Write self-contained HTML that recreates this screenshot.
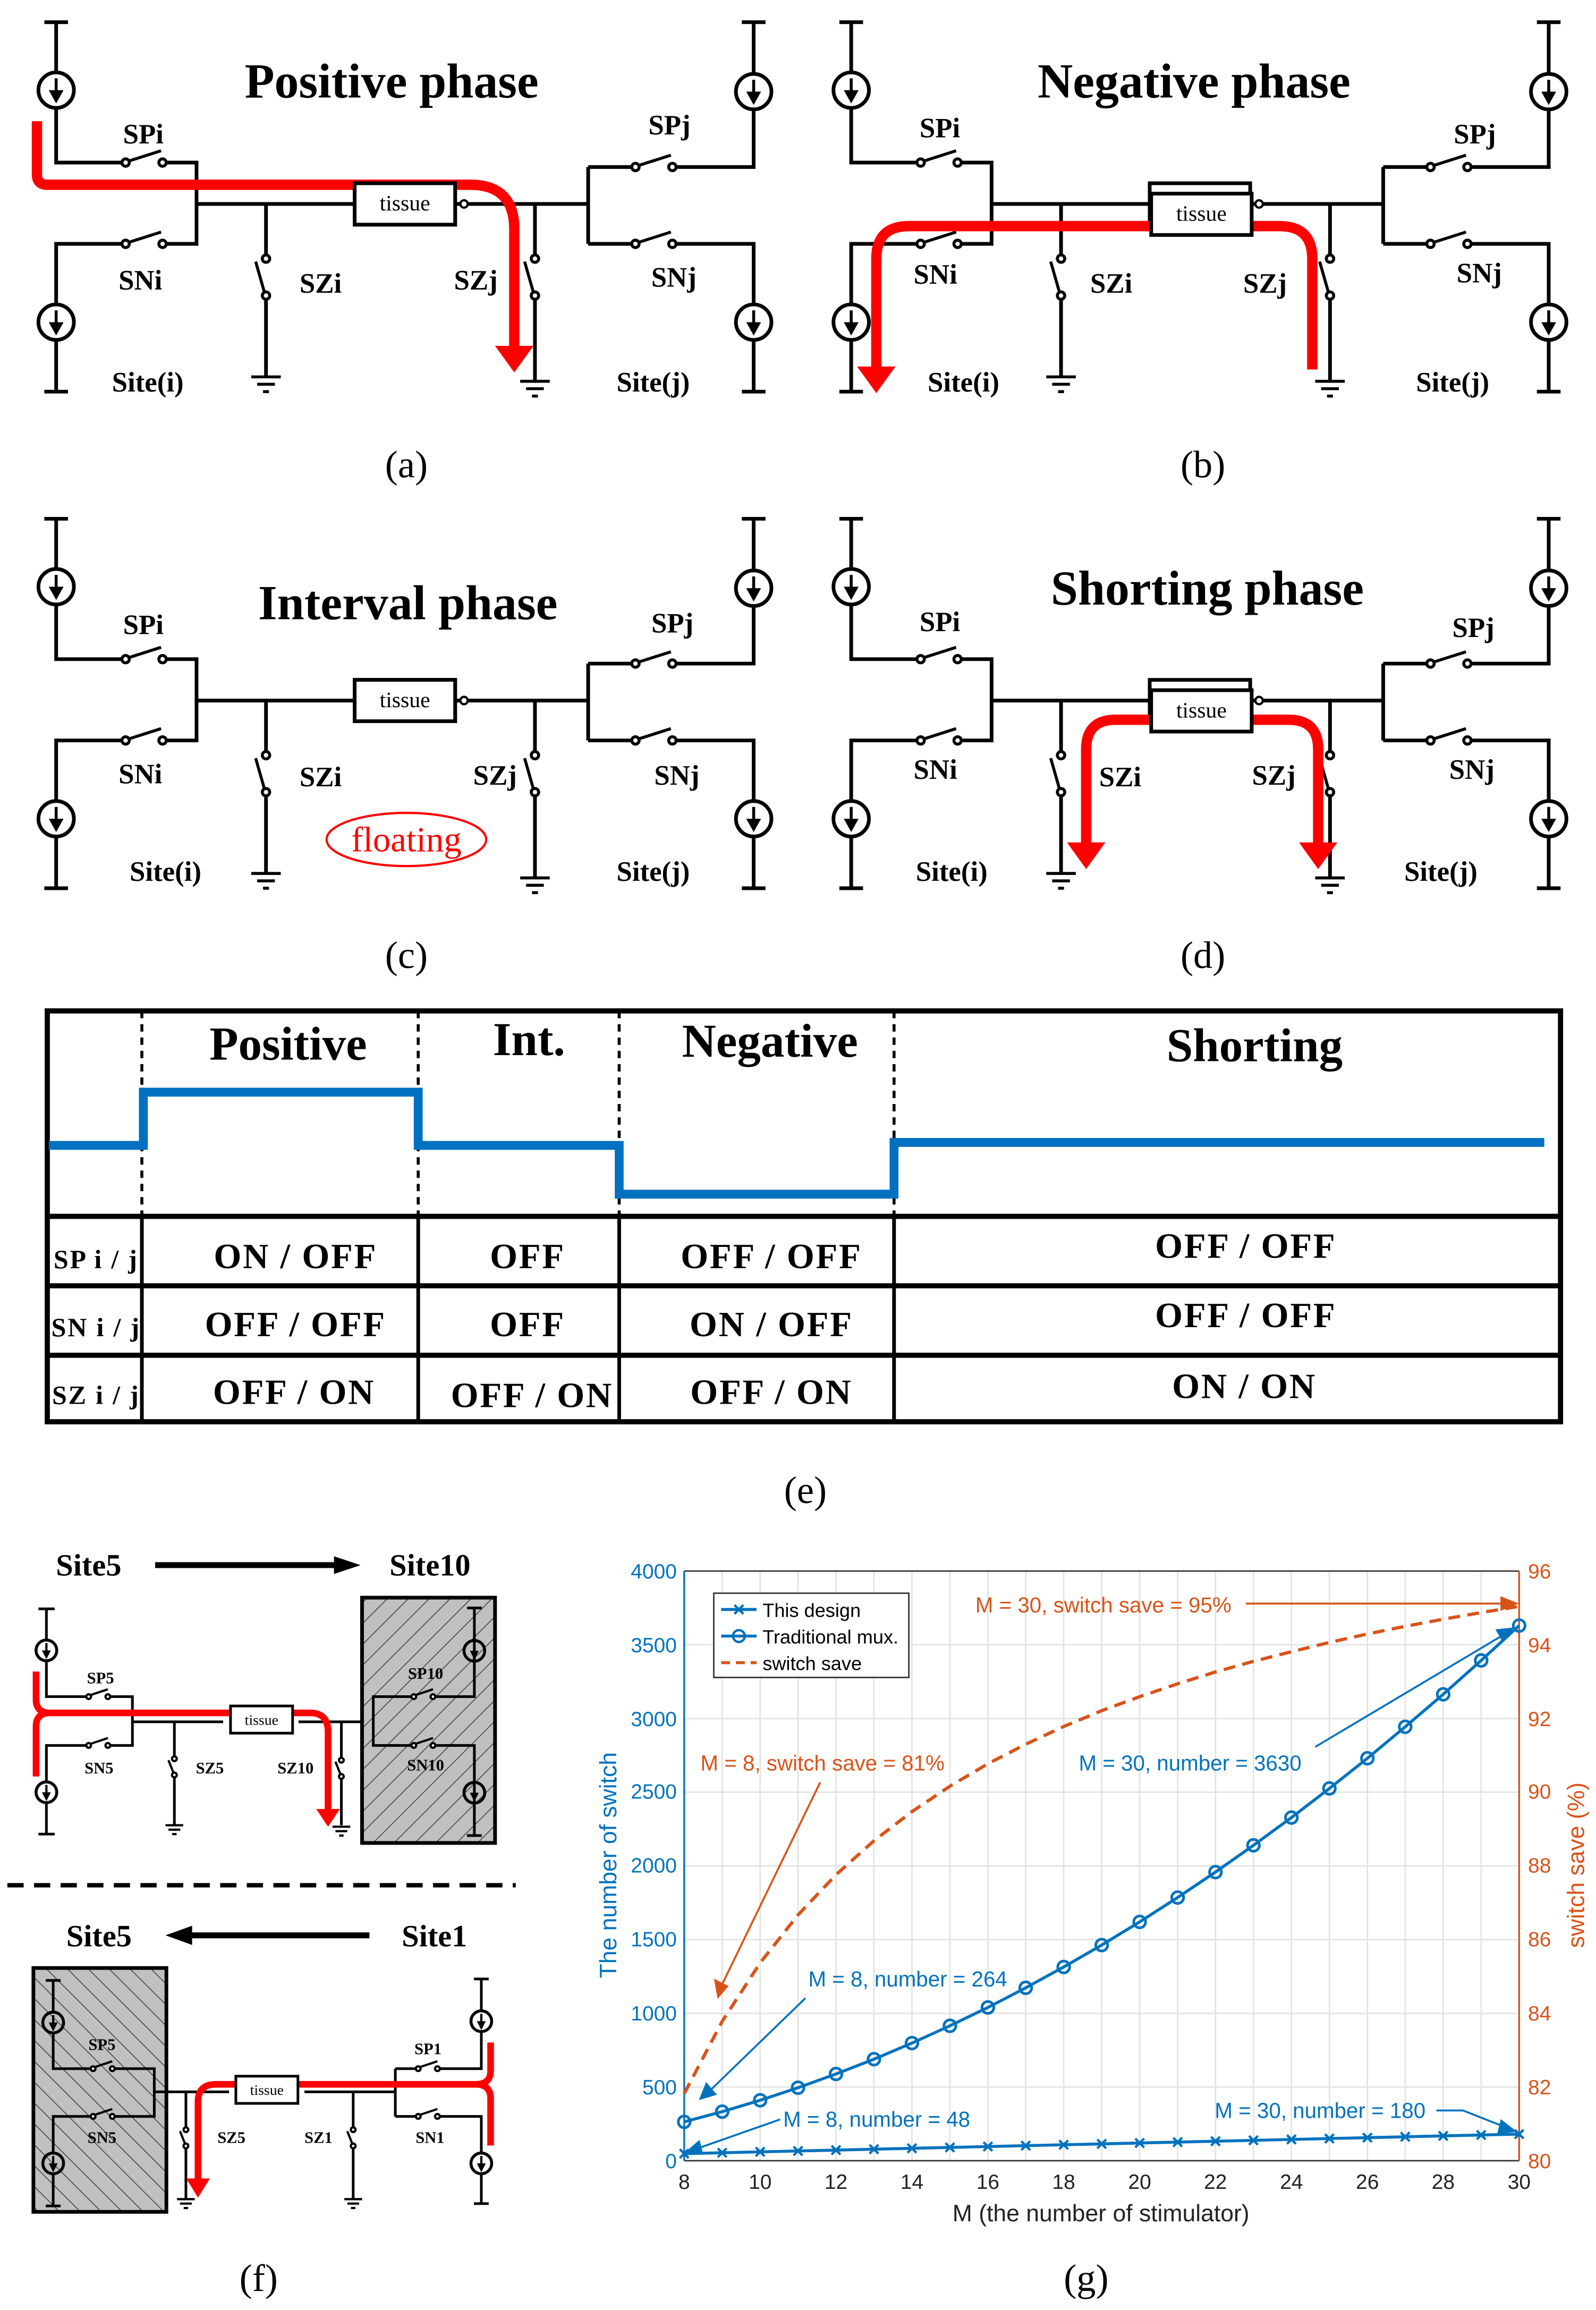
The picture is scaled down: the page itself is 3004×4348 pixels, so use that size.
<!DOCTYPE html>
<html><head><meta charset="utf-8"><style>
html,body{margin:0;padding:0;background:#fff}
svg{display:block}
.s{font-family:"Liberation Serif",serif;font-weight:bold;fill:#000}
.a{font-family:"Liberation Sans",sans-serif}
</style></head><body>
<svg width="3004" height="4348" viewBox="0 0 1080 1563" preserveAspectRatio="none" xmlns="http://www.w3.org/2000/svg">
<defs>
<g id="src"><circle r="12" fill="#fff" stroke="#000" stroke-width="2.5"/><line x1="0" y1="-8" x2="0" y2="3" stroke="#000" stroke-width="2"/><polygon points="-5,0 5,0 0,9" fill="#000"/></g>
<g id="gnd" stroke="#000" stroke-width="2"><line x1="-10" y1="0" x2="10" y2="0"/><line x1="-6" y1="5" x2="6" y2="5"/><line x1="-2" y1="10" x2="2" y2="10"/></g>
<g id="swh" stroke="#000" stroke-width="2" fill="#fff"><line x1="2" y1="-1" x2="24" y2="-8"/><circle cx="0" cy="0" r="2.5"/><circle cx="25" cy="0" r="2.5"/></g>
<g id="swv" stroke="#000" stroke-width="2" fill="#fff"><line x1="-1" y1="23" x2="-7" y2="2"/><circle cx="0" cy="0" r="2.5"/><circle cx="0" cy="25" r="2.5"/></g>
<g id="cir">
<path fill="none" stroke="#000" stroke-width="2.5" d="M30 15H46 M38 15V49 M38 73V110H85 M110 110H133V165H110 M85 165H38V206 M38 230V265 M30 265H46 M133 138H240 M308 138H398 M180 138V175 M180 200V255 M362 138V175 M362 200V258 M398 113V165 M398 113H430 M455 113H510V74 M510 50V15 M502 15H518 M398 165H430 M455 165H510V206 M510 230V265 M502 265H518"/>
<use href="#src" x="38" y="61"/><use href="#src" x="38" y="218"/><use href="#src" x="510" y="62"/><use href="#src" x="510" y="218"/>
<use href="#swh" x="85" y="110"/><use href="#swh" x="85" y="165"/><use href="#swh" x="430" y="113"/><use href="#swh" x="430" y="165"/>
<use href="#swv" x="180" y="175"/><use href="#swv" x="362" y="175"/>
<use href="#gnd" x="180" y="255"/><use href="#gnd" x="362" y="258"/>
<rect x="240" y="124" width="68" height="28" fill="#fff" stroke="#000" stroke-width="2.5"/>
<circle cx="314" cy="138" r="2.5" fill="#fff" stroke="#000" stroke-width="1.5"/>
</g>
<pattern id="h1" width="10" height="10" patternUnits="userSpaceOnUse" patternTransform="rotate(45)"><rect width="10" height="10" fill="#c0c0c0"/><line x1="0" y1="0" x2="0" y2="10" stroke="#333" stroke-width="1"/></pattern>
<pattern id="h2" width="10" height="10" patternUnits="userSpaceOnUse" patternTransform="rotate(-45)"><rect width="10" height="10" fill="#c0c0c0"/><line x1="0" y1="0" x2="0" y2="10" stroke="#333" stroke-width="1"/></pattern>
<g id="s2"><circle r="7" fill="none" stroke="#000" stroke-width="2"/><line x1="0" y1="-5" x2="0" y2="2" stroke="#000" stroke-width="1.5"/><polygon points="-3,0 3,0 0,6" fill="#000"/></g>
<g id="g2" stroke="#000" stroke-width="1.5"><line x1="-6" y1="0" x2="6" y2="0"/><line x1="-4" y1="3" x2="4" y2="3"/><line x1="-1.5" y1="6" x2="1.5" y2="6"/></g>
<g id="sw2h" stroke="#000" stroke-width="1.5" fill="#fff"><line x1="1" y1="-1" x2="13" y2="-5"/><circle r="1.6"/><circle cx="13" r="1.6"/></g>
<g id="sw2v" stroke="#000" stroke-width="1.5" fill="#fff"><line x1="0" y1="11" x2="-4" y2="1"/><circle r="1.6"/><circle cy="11" r="1.6"/></g>
</defs>

<!-- (a) -->
<use href="#cir"/>
<path d="M25 82V118Q25 125 32 125H318Q348 125 348 155V236" fill="none" stroke="#f00" stroke-width="7"/>
<polygon points="335,234 361,234 348,252" fill="#f00"/>
<rect x="240" y="124" width="68" height="28" fill="#fff" stroke="#000" stroke-width="2.5"/>
<text x="274" y="139" font-size="15" text-anchor="middle" dominant-baseline="middle" font-family="Liberation Serif,serif">tissue</text>
<text class="s" x="265" y="66" font-size="33" text-anchor="middle">Positive phase</text>
<g class="s" font-size="19" text-anchor="middle">
<text x="97" y="97">SPi</text><text x="95" y="196">SNi</text><text x="217" y="198">SZi</text><text x="322" y="196">SZj</text><text x="456" y="194">SNj</text><text x="453" y="91">SPj</text><text x="100" y="265">Site(i)</text><text x="442" y="265">Site(j)</text>
</g>
<text x="275" y="323" font-size="26" text-anchor="middle" font-family="Liberation Serif,serif">(a)</text>

<!-- (b) -->
<g transform="translate(538,0)"><use href="#cir"/></g>
<path d="M888 250V175Q888 153 866 153H615Q593 153 593 175V250" fill="none" stroke="#f00" stroke-width="7"/>
<polygon points="580,248 606,248 593,266" fill="#f00"/>
<rect x="779" y="131" width="68" height="28" fill="#fff" stroke="#000" stroke-width="2.5"/>
<text x="813" y="146" font-size="15" text-anchor="middle" dominant-baseline="middle" font-family="Liberation Serif,serif">tissue</text>
<text class="s" x="808" y="66" font-size="33" text-anchor="middle">Negative phase</text>
<g class="s" font-size="19" text-anchor="middle">
<text x="636" y="93">SPi</text><text x="633" y="192">SNi</text><text x="752" y="198">SZi</text><text x="856" y="198">SZj</text><text x="1001" y="191">SNj</text><text x="998" y="97">SPj</text><text x="652" y="265">Site(i)</text><text x="983" y="265">Site(j)</text>
</g>
<text x="814" y="323" font-size="26" text-anchor="middle" font-family="Liberation Serif,serif">(b)</text>

<!-- (c) -->
<g transform="translate(0,336)"><use href="#cir"/></g>
<rect x="240" y="460" width="68" height="28" fill="#fff" stroke="#000" stroke-width="2.5"/>
<text x="274" y="475" font-size="15" text-anchor="middle" dominant-baseline="middle" font-family="Liberation Serif,serif">tissue</text>
<text class="s" x="276" y="419" font-size="33" text-anchor="middle">Interval phase</text>
<g class="s" font-size="19" text-anchor="middle">
<text x="97" y="429">SPi</text><text x="95" y="530">SNi</text><text x="217" y="532">SZi</text><text x="335" y="531">SZj</text><text x="458" y="531">SNj</text><text x="455" y="428">SPj</text><text x="112" y="596">Site(i)</text><text x="442" y="596">Site(j)</text>
</g>
<ellipse cx="275" cy="568" rx="54" ry="18" fill="none" stroke="#f00" stroke-width="1.5"/>
<text x="275" y="576" font-size="24" text-anchor="middle" fill="#f00" font-family="Liberation Serif,serif">floating</text>
<text x="275" y="655" font-size="26" text-anchor="middle" font-family="Liberation Serif,serif">(c)</text>

<!-- (d) -->
<g transform="translate(538,336)"><use href="#cir"/></g>
<path d="M735 572V507Q735 487 755 487H872Q892 487 892 507V572" fill="none" stroke="#f00" stroke-width="7"/>
<polygon points="722,570 748,570 735,588" fill="#f00"/>
<polygon points="879,570 905,570 892,588" fill="#f00"/>
<rect x="779" y="467" width="68" height="28" fill="#fff" stroke="#000" stroke-width="2.5"/>
<text x="813" y="482" font-size="15" text-anchor="middle" dominant-baseline="middle" font-family="Liberation Serif,serif">tissue</text>
<text class="s" x="817" y="409" font-size="33" text-anchor="middle">Shorting phase</text>
<g class="s" font-size="19" text-anchor="middle">
<text x="636" y="427">SPi</text><text x="633" y="527">SNi</text><text x="758" y="532">SZi</text><text x="862" y="531">SZj</text><text x="996" y="527">SNj</text><text x="997" y="431">SPj</text><text x="644" y="596">Site(i)</text><text x="975" y="596">Site(j)</text>
</g>
<text x="814" y="655" font-size="26" text-anchor="middle" font-family="Liberation Serif,serif">(d)</text>

<!-- (e) table -->
<rect x="32" y="684" width="1024" height="278" fill="none" stroke="#000" stroke-width="3.5"/>
<g stroke="#000" stroke-width="3.5"><line x1="32" y1="823" x2="1056" y2="823"/><line x1="32" y1="870" x2="1056" y2="870"/><line x1="32" y1="917" x2="1056" y2="917"/></g>
<g stroke="#000" stroke-width="2" stroke-dasharray="5,4"><line x1="96" y1="684" x2="96" y2="823"/><line x1="283" y1="684" x2="283" y2="823"/><line x1="419" y1="684" x2="419" y2="823"/><line x1="605" y1="684" x2="605" y2="823"/></g>
<g stroke="#000" stroke-width="2.5"><line x1="96" y1="823" x2="96" y2="962"/><line x1="283" y1="823" x2="283" y2="962"/><line x1="419" y1="823" x2="419" y2="962"/><line x1="605" y1="823" x2="605" y2="962"/></g>
<path d="M33 775H97V739H283V775H419V808H605V773H1045" fill="none" stroke="#0070c0" stroke-width="6"/>
<g class="s" font-size="32" text-anchor="middle">
<text x="195" y="717">Positive</text><text x="358" y="714">Int.</text><text x="521" y="715">Negative</text><text x="849" y="718">Shorting</text>
</g>
<g class="s" font-size="24" text-anchor="middle" letter-spacing="1">
<text x="65" y="858" font-size="18">SP i / j</text><text x="200" y="858">ON / OFF</text><text x="357" y="858">OFF</text><text x="522" y="858">OFF / OFF</text><text x="843" y="851">OFF / OFF</text>
<text x="65" y="904" font-size="18">SN i / j</text><text x="200" y="904">OFF / OFF</text><text x="357" y="904">OFF</text><text x="522" y="904">ON / OFF</text><text x="843" y="898">OFF / OFF</text>
<text x="65" y="950" font-size="18">SZ i / j</text><text x="199" y="950">OFF / ON</text><text x="360" y="952">OFF / ON</text><text x="522" y="950">OFF / ON</text><text x="842" y="946">ON / ON</text>
</g>
<text x="545" y="1017" font-size="26" text-anchor="middle" font-family="Liberation Serif,serif">(e)</text>

<!-- (f) top -->
<text class="s" x="60" y="1066" font-size="21" text-anchor="middle">Site5</text>
<line x1="105" y1="1059" x2="228" y2="1059" stroke="#000" stroke-width="4"/><polygon points="226,1053 244,1059 226,1065" fill="#000"/>
<text class="s" x="291" y="1066" font-size="21" text-anchor="middle">Site10</text>
<path fill="none" stroke="#000" stroke-width="1.8" d="M26 1088.6H37 M31.4 1088.6V1109 M31.4 1124V1148H60 M74 1148H89.6V1181H74 M60 1181H31.4V1205 M31.4 1220V1241 M26 1241H37 M89.6 1165H151 M202 1165H252 M118 1165V1190 M118 1202V1235 M231 1165V1190 M231 1202V1235"/>
<use href="#s2" x="31.4" y="1116.7"/><use href="#s2" x="31.4" y="1212.7"/>
<use href="#sw2h" x="60" y="1148"/><use href="#sw2h" x="60" y="1181"/>
<use href="#sw2v" x="118" y="1190"/><use href="#sw2v" x="231" y="1191"/>
<use href="#g2" x="118" y="1235"/><use href="#g2" x="231" y="1236"/>
<rect x="245" y="1081" width="90" height="166" fill="url(#h1)" stroke="#000" stroke-width="2.5"/>
<path fill="none" stroke="#000" stroke-width="1.8" d="M252.6 1165V1148H280 M294 1148H321V1088 M316 1088H326 M252.6 1165V1181H280 M294 1181H321V1242 M316 1242H326"/>
<use href="#s2" x="321" y="1117"/><use href="#s2" x="321" y="1213"/>
<use href="#sw2h" x="280" y="1148"/><use href="#sw2h" x="280" y="1181"/>
<path d="M24.4 1131V1150Q24.4 1159 34 1159H156 M24.4 1202V1168Q24.4 1159 34 1159" fill="none" stroke="#f00" stroke-width="4.5"/>
<path d="M198 1159H210Q222 1159 222 1172V1226" fill="none" stroke="#f00" stroke-width="4.5"/>
<polygon points="214,1224 230,1224 222,1236" fill="#f00"/>
<rect x="156" y="1154.3" width="42" height="18.4" fill="#fff" stroke="#000" stroke-width="1.8"/>
<text x="177" y="1167" font-size="10" text-anchor="middle" font-family="Liberation Serif,serif">tissue</text>
<g class="s" font-size="11" text-anchor="middle">
<text x="68" y="1139">SP5</text><text x="67" y="1200">SN5</text><text x="142" y="1200">SZ5</text><text x="200" y="1200">SZ10</text><text x="288" y="1136">SP10</text><text x="288" y="1198">SN10</text>
</g>
<line x1="5" y1="1275.6" x2="349" y2="1275.6" stroke="#000" stroke-width="3" stroke-dasharray="11,7"/>
<!-- (f) bottom -->
<text class="s" x="67" y="1317" font-size="21" text-anchor="middle">Site5</text>
<line x1="128" y1="1309.5" x2="250" y2="1309.5" stroke="#000" stroke-width="4"/><polygon points="130,1303 112,1309.5 130,1316" fill="#000"/>
<text class="s" x="294" y="1317" font-size="21" text-anchor="middle">Site1</text>
<rect x="22.6" y="1331.6" width="90" height="165" fill="url(#h2)" stroke="#000" stroke-width="2.5"/>
<path fill="none" stroke="#000" stroke-width="1.8" d="M31 1340H41 M36 1340V1361 M36 1376V1399.7H63 M77 1399.7H104.4V1432H77 M63 1432H36V1456 M36 1471V1492.6 M31 1492.6H41 M104.4 1415.4H155 M206 1415.4H267.5 M125.8 1415.4V1441 M125.8 1453V1488 M239 1415.4V1441 M239 1453V1488 M267.5 1399.7V1432 M267.5 1399.7H283 M297 1399.7H325.7V1375 M325.7 1360V1339 M320.7 1339H330.7 M267.5 1432H283 M297 1432H325.7V1456 M325.7 1471V1491 M320.7 1491H330.7"/>
<use href="#s2" x="36" y="1368.5"/><use href="#s2" x="36" y="1463.8"/><use href="#s2" x="325.7" y="1367.6"/><use href="#s2" x="325.7" y="1463.8"/>
<use href="#sw2h" x="63" y="1399.7"/><use href="#sw2h" x="63" y="1432"/><use href="#sw2h" x="283" y="1399.7"/><use href="#sw2h" x="283" y="1432"/>
<use href="#sw2v" x="125.8" y="1441"/><use href="#sw2v" x="239" y="1441"/>
<use href="#g2" x="125.8" y="1488"/><use href="#g2" x="239" y="1488"/>
<path d="M332 1382V1401Q332 1410.3 322 1410.3H159.6 M332 1451.7V1420Q332 1410.3 322 1410.3" fill="none" stroke="#f00" stroke-width="4.5"/>
<path d="M159.6 1410.3H146Q134 1410.3 134 1422V1476" fill="none" stroke="#f00" stroke-width="4.5"/>
<polygon points="126,1474 142,1474 134,1487" fill="#f00"/>
<rect x="159.6" y="1404.8" width="42" height="18.4" fill="#fff" stroke="#000" stroke-width="1.8"/>
<text x="180.6" y="1417.5" font-size="10" text-anchor="middle" font-family="Liberation Serif,serif">tissue</text>
<g class="s" font-size="11" text-anchor="middle">
<text x="69" y="1387">SP5</text><text x="69" y="1450">SN5</text><text x="156.6" y="1450">SZ5</text><text x="215.5" y="1450">SZ1</text><text x="289.6" y="1390">SP1</text><text x="291" y="1450">SN1</text>
</g>
<text x="175" y="1550" font-size="26" text-anchor="middle" font-family="Liberation Serif,serif">(f)</text>

<!-- (g) chart -->
<g stroke="#e3e3e3" stroke-width="1">
<path d="M488.7 1063V1462 M514.4 1063V1462 M540 1063V1462 M565.7 1063V1462 M591.4 1063V1462 M617.1 1063V1462 M642.8 1063V1462 M668.5 1063V1462 M694.1 1063V1462 M719.8 1063V1462 M745.5 1063V1462 M771.2 1063V1462 M796.9 1063V1462 M822.5 1063V1462 M848.2 1063V1462 M873.9 1063V1462 M899.6 1063V1462 M925.3 1063V1462 M950.9 1063V1462 M976.6 1063V1462 M1002.3 1063V1462"/>
<path d="M463 1412.1H1028 M463 1362.3H1028 M463 1312.4H1028 M463 1262.5H1028 M463 1212.6H1028 M463 1162.8H1028 M463 1112.9H1028"/>
</g>
<line x1="463" y1="1063" x2="1028" y2="1063" stroke="#333" stroke-width="1"/>
<line x1="463" y1="1462" x2="1028" y2="1462" stroke="#333" stroke-width="1"/>
<line x1="463" y1="1063" x2="463" y2="1462" stroke="#0072bd" stroke-width="1.2"/>
<line x1="1028" y1="1063" x2="1028" y2="1462" stroke="#d95319" stroke-width="1.2"/>
<g class="a" font-size="14" fill="#0072bd" text-anchor="end">
<text x="458" y="1467">0</text><text x="458" y="1417">500</text><text x="458" y="1367">1000</text><text x="458" y="1317">1500</text><text x="458" y="1267">2000</text><text x="458" y="1217">2500</text><text x="458" y="1168">3000</text><text x="458" y="1118">3500</text><text x="458" y="1068">4000</text>
</g>
<g class="a" font-size="14" fill="#d95319">
<text x="1034" y="1467">80</text><text x="1034" y="1417">82</text><text x="1034" y="1367">84</text><text x="1034" y="1317">86</text><text x="1034" y="1267">88</text><text x="1034" y="1217">90</text><text x="1034" y="1168">92</text><text x="1034" y="1118">94</text><text x="1034" y="1068">96</text>
</g>
<g class="a" font-size="14" fill="#222" text-anchor="middle">
<text x="463" y="1481">8</text><text x="514.4" y="1481">10</text><text x="565.7" y="1481">12</text><text x="617.1" y="1481">14</text><text x="668.5" y="1481">16</text><text x="719.8" y="1481">18</text><text x="771.2" y="1481">20</text><text x="822.5" y="1481">22</text><text x="873.9" y="1481">24</text><text x="925.3" y="1481">26</text><text x="976.6" y="1481">28</text><text x="1028" y="1481">30</text>
</g>
<text class="a" x="745" y="1503" font-size="16" text-anchor="middle" fill="#222">M (the number of stimulator)</text>
<text class="a" x="0" y="0" font-size="16" text-anchor="middle" fill="#0072bd" transform="translate(417,1262) rotate(-90)">The number of switch</text>
<text class="a" x="0" y="0" font-size="16" text-anchor="middle" fill="#d95319" transform="translate(1072,1262) rotate(-90)">switch save (%)</text>
<polyline fill="none" stroke="#d95319" stroke-width="2.2" stroke-dasharray="8,5" points="463,1416.6 488.7,1367.7 514.4,1328.1 540,1295.7 565.7,1268.5 591.4,1245.5 617.1,1225.8 642.8,1208.6 668.5,1193.4 694.1,1180.2 719.8,1168.2 745.5,1157.5 771.2,1148 796.9,1139.3 822.5,1131.3 848.2,1124.1 873.9,1117.6 899.6,1111.3 925.3,1105.6 950.9,1100.4 976.6,1095.6 1002.3,1091.1 1028,1086.9"/>
<polyline fill="none" stroke="#0072bd" stroke-width="2" points="463,1435.7 488.7,1428.8 514.4,1421.1 540,1412.6 565.7,1403.3 591.4,1393.3 617.1,1382.4 642.8,1370.7 668.5,1358.3 694.1,1345 719.8,1330.9 745.5,1316.1 771.2,1300.4 796.9,1283.9 822.5,1266.7 848.2,1248.6 873.9,1229.8 899.6,1210.1 925.3,1189.7 950.9,1168.4 976.6,1146.4 1002.3,1123.5 1028,1099.9"/>
<g fill="none" stroke="#0072bd" stroke-width="1.8">
<circle cx="463" cy="1435.7" r="4"/><circle cx="488.7" cy="1428.8" r="4"/><circle cx="514.4" cy="1421.1" r="4"/><circle cx="540" cy="1412.6" r="4"/><circle cx="565.7" cy="1403.3" r="4"/><circle cx="591.4" cy="1393.3" r="4"/><circle cx="617.1" cy="1382.4" r="4"/><circle cx="642.8" cy="1370.7" r="4"/><circle cx="668.5" cy="1358.3" r="4"/><circle cx="694.1" cy="1345" r="4"/><circle cx="719.8" cy="1330.9" r="4"/><circle cx="745.5" cy="1316.1" r="4"/><circle cx="771.2" cy="1300.4" r="4"/><circle cx="796.9" cy="1283.9" r="4"/><circle cx="822.5" cy="1266.7" r="4"/><circle cx="848.2" cy="1248.6" r="4"/><circle cx="873.9" cy="1229.8" r="4"/><circle cx="899.6" cy="1210.1" r="4"/><circle cx="925.3" cy="1189.7" r="4"/><circle cx="950.9" cy="1168.4" r="4"/><circle cx="976.6" cy="1146.4" r="4"/><circle cx="1002.3" cy="1123.5" r="4"/><circle cx="1028" cy="1099.9" r="4"/>
</g>
<line x1="463" y1="1457.2" x2="1028" y2="1444" stroke="#0072bd" stroke-width="2"/>
<g stroke="#0072bd" stroke-width="1.6" fill="none">
<path d="M460 1454.2l6 6m0-6l-6 6 M485.7 1453.6l6 6m0-6l-6 6 M511.4 1453l6 6m0-6l-6 6 M537 1452.4l6 6m0-6l-6 6 M562.7 1451.8l6 6m0-6l-6 6 M588.4 1451.2l6 6m0-6l-6 6 M614.1 1450.6l6 6m0-6l-6 6 M639.8 1450l6 6m0-6l-6 6 M665.5 1449.4l6 6m0-6l-6 6 M691.1 1448.8l6 6m0-6l-6 6 M716.8 1448.2l6 6m0-6l-6 6 M742.5 1447.6l6 6m0-6l-6 6 M768.2 1447l6 6m0-6l-6 6 M793.9 1446.4l6 6m0-6l-6 6 M819.5 1445.8l6 6m0-6l-6 6 M845.2 1445.2l6 6m0-6l-6 6 M870.9 1444.6l6 6m0-6l-6 6 M896.6 1444l6 6m0-6l-6 6 M922.3 1443.4l6 6m0-6l-6 6 M947.9 1442.8l6 6m0-6l-6 6 M973.6 1442.2l6 6m0-6l-6 6 M999.3 1441.6l6 6m0-6l-6 6 M1025 1441l6 6m0-6l-6 6"/>
</g>
<rect x="483" y="1078" width="132" height="57" fill="#fff" stroke="#333" stroke-width="1"/>
<line x1="488" y1="1089" x2="512" y2="1089" stroke="#0072bd" stroke-width="2"/><path d="M497 1086l6 6m0-6l-6 6" stroke="#0072bd" stroke-width="1.6"/>
<line x1="488" y1="1107" x2="512" y2="1107" stroke="#0072bd" stroke-width="2"/><circle cx="500" cy="1107" r="4" fill="none" stroke="#0072bd" stroke-width="1.6"/>
<line x1="488" y1="1125" x2="512" y2="1125" stroke="#d95319" stroke-width="2" stroke-dasharray="6,4"/>
<g class="a" font-size="13" fill="#000"><text x="516" y="1094">This design</text><text x="516" y="1112">Traditional mux.</text><text x="516" y="1130">switch save</text></g>
<g class="a" font-size="14.5">
<text x="660" y="1091" fill="#d95319">M = 30, switch save = 95%</text>
<text x="474" y="1198" fill="#d95319">M = 8, switch save = 81%</text>
<text x="730" y="1198" fill="#0072bd">M = 30, number = 3630</text>
<text x="547" y="1344" fill="#0072bd">M = 8, number = 264</text>
<text x="530" y="1439" fill="#0072bd">M = 8, number = 48</text>
<text x="822" y="1433" fill="#0072bd">M = 30, number = 180</text>
</g>
<g stroke="#d95319" stroke-width="1.3" fill="#d95319">
<line x1="843" y1="1085" x2="1018" y2="1085"/><polygon points="1016,1081 1026,1085 1016,1089"/>
<line x1="555" y1="1206" x2="489" y2="1342"/><polygon points="484,1340 486,1351 492,1344"/>
</g>
<g stroke="#0072bd" stroke-width="1.3" fill="#0072bd">
<line x1="890" y1="1182" x2="1016" y2="1107"/><polygon points="1013,1103 1023,1102 1017,1110"/>
<line x1="545" y1="1352" x2="481" y2="1414"/><polygon points="478,1410 474,1420 484,1417"/>
<line x1="528" y1="1434" x2="474" y2="1453"/><polygon points="473,1449 465,1456 475,1457"/>
<polyline points="972,1428 990,1428 1018,1439" fill="none"/><polygon points="1016,1435 1025,1442 1014,1443"/>
</g>
<text x="735" y="1550" font-size="26" text-anchor="middle" font-family="Liberation Serif,serif">(g)</text>
</svg>
</body></html>
